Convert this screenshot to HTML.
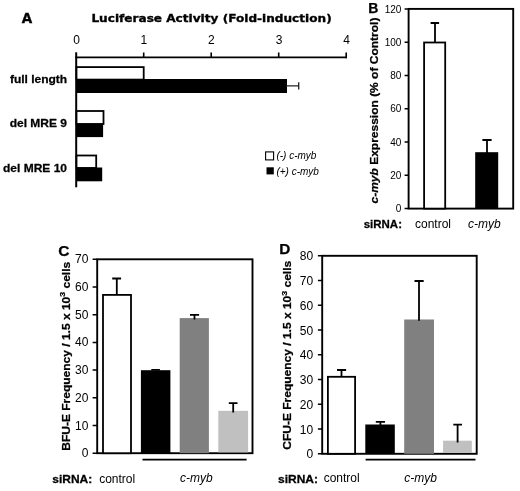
<!DOCTYPE html>
<html><head><meta charset="utf-8"><title>Figure</title>
<style>
html,body{margin:0;padding:0;background:#fff;}
svg{display:block;}
text{font-family:"Liberation Sans",Arial,sans-serif;fill:#000;}
.b{font-weight:bold;stroke:#000;stroke-width:0.25px;}
.i{font-style:italic;}
.v{font-family:"DejaVu Sans",Verdana,sans-serif;font-weight:bold;stroke:#000;stroke-width:0.35px;}
</style></head><body>
<svg width="520" height="491" viewBox="0 0 520 491">
<rect width="520" height="491" fill="#fff"/>

<!-- Panel A -->
<g id="A">
<text class="v" x="21.8" y="23.3" font-size="13.5">A</text>
<text class="v" x="91.4" y="22.4" font-size="11" textLength="240.3" lengthAdjust="spacingAndGlyphs">Luciferase Activity (Fold-induction)</text>
<g font-size="12" text-anchor="middle">
<text x="76.5" y="43.8">0</text><text x="143.8" y="43.8">1</text><text x="211.4" y="43.8">2</text><text x="279" y="43.8">3</text><text x="346.6" y="43.8">4</text>
</g>
<g stroke="#000" fill="none">
<path d="M76.2 52.3V187.3" stroke-width="2"/>
<path d="M75.2 57.4H347" stroke-width="1.9"/>
<path d="M143.7 52.5V57M211.2 52.5V57M278.7 52.5V57M346.2 52.5V58.3" stroke-width="1.6"/>
</g>
<rect x="76.5" y="67.1" width="67.2" height="12.5" fill="#fff" stroke="#000" stroke-width="1.8"/>
<rect x="76.2" y="79" width="210.8" height="14" fill="#000"/>
<path d="M286 85.9H298.7M298.7 82.2V89.4" stroke="#222" stroke-width="1.3" fill="none"/>
<rect x="76.5" y="111" width="27" height="13" fill="#fff" stroke="#000" stroke-width="1.8"/>
<rect x="76.2" y="123.6" width="26.9" height="13.5" fill="#000"/>
<rect x="76.5" y="155.5" width="19.7" height="12.5" fill="#fff" stroke="#000" stroke-width="1.8"/>
<rect x="76.2" y="167.5" width="26" height="13.8" fill="#000"/>
<g class="b" font-size="10.8" text-anchor="end">
<text transform="translate(67.2,83.3) scale(1.111,1)">full length</text>
<text transform="translate(67,127.2) scale(1.111,1)">del MRE 9</text>
<text transform="translate(67,171.7) scale(1.111,1)">del MRE 10</text>
</g>
<rect x="265.6" y="151.9" width="8" height="8" fill="#fff" stroke="#000" stroke-width="1.1"/>
<rect x="266.5" y="167.3" width="7.3" height="7.1" fill="#000"/>
<text class="i" x="276.4" y="158.7" font-size="10">(-) c-myb</text>
<text class="i" x="276.4" y="174.7" font-size="10">(+) c-myb</text>
</g>

<!-- Panel B -->
<g id="B">
<text class="b" x="368.2" y="12.7" font-size="14">B</text>
<rect x="408.6" y="8.9" width="104.6" height="199.7" fill="none" stroke="#000" stroke-width="1.9"/>
<g stroke="#000" stroke-width="1.5">
<path d="M404.6 8.9H408.6M404.6 42.2H408.6M404.6 75.5H408.6M404.6 108.7H408.6M404.6 142.0H408.6M404.6 175.3H408.6M404.6 208.6H408.6"/>
</g>
<g font-size="10" text-anchor="end">
<text x="401.4" y="12.5">120</text><text x="401.4" y="45.8">100</text><text x="401.4" y="79.1">80</text><text x="401.4" y="112.3">60</text><text x="401.4" y="145.6">40</text><text x="401.4" y="178.9">20</text><text x="401.4" y="212.2">0</text>
</g>
<rect x="424.1" y="42.5" width="21.1" height="166.1" fill="#fff" stroke="#000" stroke-width="1.8"/>
<path d="M435 42.5V23M430.6 23H439.1" stroke="#000" stroke-width="1.8" fill="none"/>
<rect x="475.2" y="152.2" width="23" height="56.4" fill="#000"/>
<path d="M487 153V140M482.4 140H491.6" stroke="#000" stroke-width="1.8" fill="none"/>
<text class="b" transform="translate(378.2,203.5) rotate(-90) scale(1.111,1)" font-size="10.8"><tspan class="i">c-myb</tspan> Expression (% of Control)</text>
<text class="b" transform="translate(363.7,228.3) scale(1.111,1)" font-size="10.35">siRNA:</text>
<text x="415" y="228" font-size="12">control</text>
<text class="i" x="468" y="228" font-size="12">c-myb</text>
</g>

<!-- Panel C -->
<g id="C">
<text class="b" x="58.3" y="255.6" font-size="15.5">C</text>
<rect x="97.2" y="259.3" width="155.3" height="193.9" fill="none" stroke="#000" stroke-width="1.9"/>
<g stroke="#000" stroke-width="1.5">
<path d="M92.6 259.3H97.2M92.6 287H97.2M92.6 314.7H97.2M92.6 342.4H97.2M92.6 370.1H97.2M92.6 397.8H97.2M92.6 425.5H97.2M92.6 453.2H97.2"/>
</g>
<g font-size="12" text-anchor="end">
<text x="88.4" y="263.3">70</text><text x="88.4" y="291">60</text><text x="88.4" y="318.7">50</text><text x="88.4" y="346.4">40</text><text x="88.4" y="374.1">30</text><text x="88.4" y="401.8">20</text><text x="88.4" y="429.5">10</text><text x="88.4" y="457.2">0</text>
</g>
<rect x="103" y="294.9" width="28" height="158.3" fill="#fff" stroke="#000" stroke-width="1.8"/>
<path d="M116.8 295V278.5M112.2 278.5H121.1" stroke="#000" stroke-width="1.8" fill="none"/>
<rect x="140.9" y="370.2" width="29.5" height="83" fill="#000"/>
<path d="M151.3 369.8H159.9" stroke="#000" stroke-width="1.6" fill="none"/>
<rect x="179.7" y="318.1" width="29.2" height="135.1" fill="#808080"/>
<path d="M194.5 319.6V314.9M190 314.9H199.1" stroke="#000" stroke-width="1.8" fill="none"/>
<rect x="218.3" y="410.8" width="29.8" height="41.6" fill="#c0c0c0"/>
<path d="M233.2 412.5V403.1M228.8 403.1H237.5" stroke="#000" stroke-width="1.8" fill="none"/>
<path d="M142.5 459.7H246.6" stroke="#000" stroke-width="1.8"/>
<text class="b" transform="translate(69.6,450.7) rotate(-90) scale(1.111,1)" font-size="10.8">BFU-E Frequency / 1.5 x 10<tspan font-size="8" dy="-4.6">3</tspan><tspan dy="4.6"> cells</tspan></text>
<text class="b" transform="translate(52.3,482.5) scale(1.111,1)" font-size="10.80">siRNA:</text>
<text x="99.2" y="482.7" font-size="12">control</text>
<text class="i" x="180" y="482.3" font-size="12">c-myb</text>
</g>

<!-- Panel D -->
<g id="D">
<text class="b" x="279.3" y="253.6" font-size="15.3">D</text>
<rect x="322.2" y="255.8" width="154.5" height="198.0" fill="none" stroke="#000" stroke-width="1.9"/>
<g stroke="#000" stroke-width="1.5">
<path d="M317.9 255.8H322.2M317.9 280.6H322.2M317.9 305.3H322.2M317.9 330.1H322.2M317.9 354.8H322.2M317.9 379.6H322.2M317.9 404.3H322.2M317.9 429.1H322.2M317.9 453.8H322.2"/>
</g>
<g font-size="12" text-anchor="end">
<text x="313.2" y="260.2">80</text><text x="313.2" y="285.0">70</text><text x="313.2" y="309.7">60</text><text x="313.2" y="334.5">50</text><text x="313.2" y="359.2">40</text><text x="313.2" y="384.0">30</text><text x="313.2" y="408.7">20</text><text x="313.2" y="433.5">10</text><text x="313.2" y="458.2">0</text>
</g>
<rect x="327.9" y="376.8" width="27.2" height="77" fill="#fff" stroke="#000" stroke-width="1.8"/>
<path d="M341.5 376.8V370M337 370H346.1" stroke="#000" stroke-width="1.8" fill="none"/>
<rect x="365.3" y="424.5" width="29.5" height="29.3" fill="#000"/>
<path d="M380.4 425V421.9M375.8 421.9H385" stroke="#000" stroke-width="1.8" fill="none"/>
<rect x="404.2" y="319.5" width="29.8" height="134.3" fill="#808080"/>
<path d="M419 320.7V281M414.5 281H423.7" stroke="#000" stroke-width="1.8" fill="none"/>
<rect x="443.1" y="440.7" width="28.7" height="12.3" fill="#c0c0c0"/>
<path d="M457.6 442.5V424.7M453.3 424.7H462" stroke="#000" stroke-width="1.8" fill="none"/>
<path d="M365.6 459.7H475.5" stroke="#000" stroke-width="1.8"/>
<text class="b" transform="translate(291.2,449.7) rotate(-90) scale(1.111,1)" font-size="10.8">CFU-E Frequency / 1.5 x 10<tspan font-size="8" dy="-4.6">3</tspan><tspan dy="4.6"> cells</tspan></text>
<text class="b" transform="translate(278.0,482.5) scale(1.111,1)" font-size="10.80">siRNA:</text>
<text x="323.7" y="482" font-size="12">control</text>
<text class="i" x="404.2" y="482" font-size="12">c-myb</text>
</g>
</svg>
</body></html>
